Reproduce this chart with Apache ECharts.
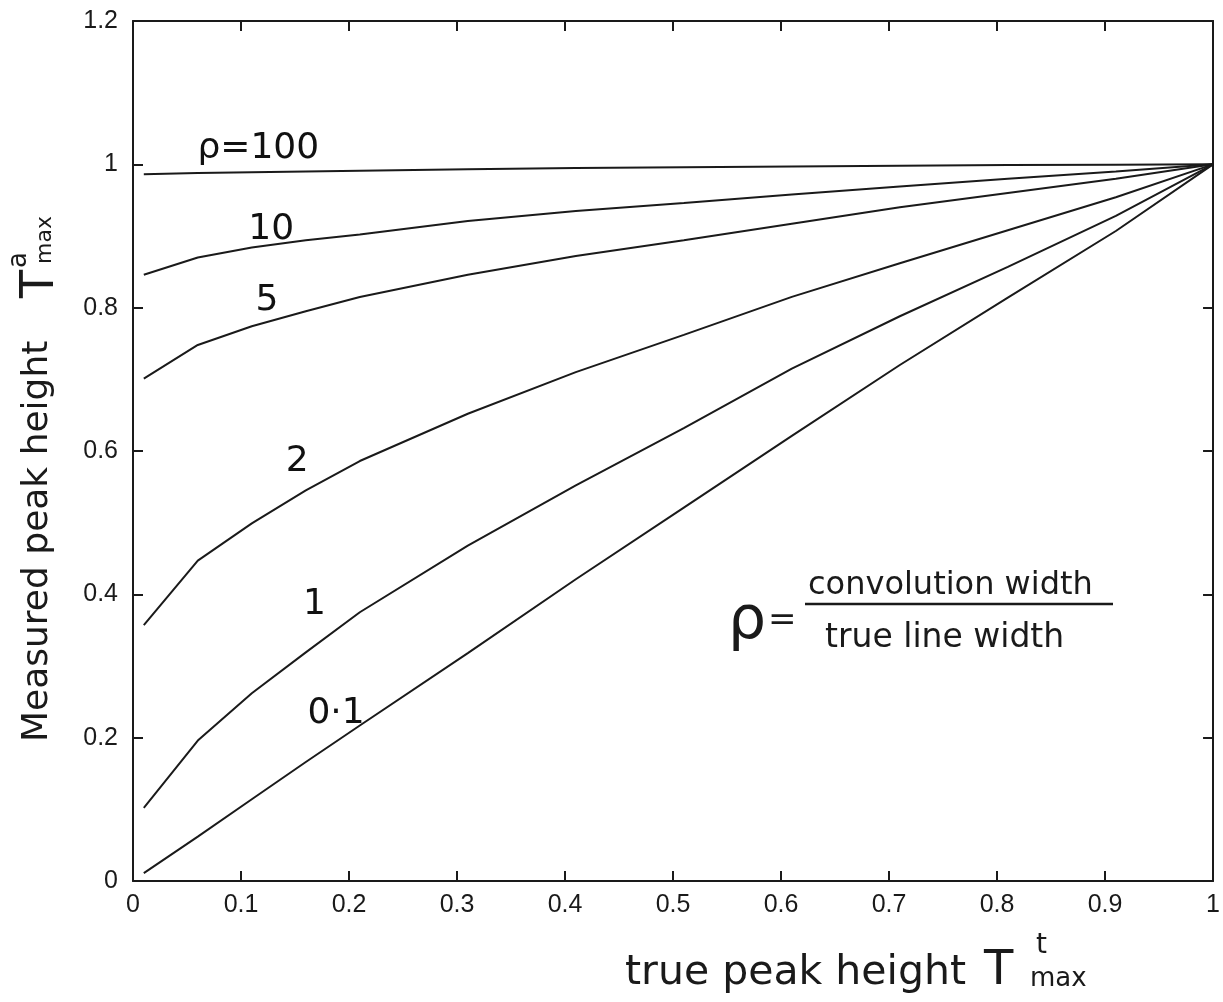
<!DOCTYPE html>
<html>
<head>
<meta charset="utf-8">
<script src="https://cdn.jsdelivr.net/npm/echarts@6/dist/echarts.min.js"></script>
<style>
  html, body { margin: 0; padding: 0; background: #fff; }
  #chart { width: 1223px; height: 1002px; }
</style>
</head>
<body>
<div id="chart"></div>
<script>
// true peak height (x) sampled points
const xTrue = [0.01, 0.06, 0.11, 0.16, 0.21, 0.31, 0.41, 0.51, 0.61, 0.71, 0.81, 0.91, 1.0]

// measured peak height for each rho
const rho100 = [0.986, 0.988, 0.989, 0.990, 0.991, 0.993, 0.995, 0.996, 0.997, 0.998, 0.999, 0.9995, 1.0]
const rho10 = [0.846, 0.870, 0.884, 0.894, 0.902, 0.921, 0.935, 0.946, 0.958, 0.969, 0.980, 0.990, 1.0]
const rho5 = [0.701, 0.748, 0.774, 0.795, 0.815, 0.846, 0.872, 0.894, 0.917, 0.940, 0.960, 0.980, 1.0]
const rho2 = [0.357, 0.447, 0.499, 0.545, 0.586, 0.652, 0.710, 0.762, 0.815, 0.862, 0.908, 0.954, 1.0]
const rho1 = [0.102, 0.196, 0.262, 0.319, 0.375, 0.468, 0.552, 0.632, 0.715, 0.788, 0.857, 0.928, 1.0]
const rho01 = [0.011, 0.062, 0.114, 0.166, 0.217, 0.318, 0.421, 0.521, 0.621, 0.720, 0.814, 0.907, 1.0]

const curves = [
  { name: 'ρ=100', values: rho100 },
  { name: '10', values: rho10 },
  { name: '5', values: rho5 },
  { name: '2', values: rho2 },
  { name: '1', values: rho1 },
  { name: '0.1', values: rho01 }
]

// curve labels: text, x, y (data coords)
const curveLabels = [
  ['ρ=100', 0.116, 1.022],
  ['10', 0.128, 0.909],
  ['5', 0.124, 0.810],
  ['2', 0.152, 0.585],
  ['1', 0.168, 0.385],
  ['0·1', 0.188, 0.234]
]

const xTicks = [0, 0.1, 0.2, 0.3, 0.4, 0.5, 0.6, 0.7, 0.8, 0.9, 1]
const yTicks = [0, 0.2, 0.4, 0.6, 0.8, 1, 1.2]

const ink = '#1a1a1a'
const hand = '"DejaVu Sans", sans-serif'
const tickFont = '"Liberation Sans", Arial, sans-serif'

const fmt = v => String(+v.toFixed(1))

const axisCommon = {
  type: 'value',
  axisLine: { show: true, onZero: false, lineStyle: { color: ink, width: 2 } },
  axisTick: { show: true, inside: true, length: 10, lineStyle: { color: ink, width: 2 } },
  splitLine: { show: false }
}

const chart = echarts.init(document.getElementById('chart'))

const option = {
  backgroundColor: '#fff',
  animation: false,
  grid: { left: 133, right: 5, top: 21, bottom: 121 },
  xAxis: [
    Object.assign({}, axisCommon, {
      position: 'bottom', min: 0, max: 1, interval: 0.1,
      axisLabel: { color: ink, fontSize: 25, fontFamily: tickFont, margin: 12, formatter: fmt }
    }),
    Object.assign({}, axisCommon, {
      position: 'top', min: 0, max: 1, interval: 0.1,
      axisLabel: { show: false }
    })
  ],
  yAxis: [
    Object.assign({}, axisCommon, {
      position: 'left', min: 0, max: 1.2, interval: 0.2,
      axisLabel: { color: ink, fontSize: 25, fontFamily: tickFont, margin: 15, formatter: fmt }
    }),
    Object.assign({}, axisCommon, {
      position: 'right', min: 0, max: 1.2, interval: 0.2,
      axisLabel: { show: false }
    })
  ],
  series: curves.map(c => ({
    name: c.name,
    type: 'line',
    data: xTrue.map((x, i) => [x, c.values[i]]),
    showSymbol: false,
    symbol: 'none',
    lineStyle: { color: ink, width: 2 },
    silent: true
  })).concat([{
    name: 'labels',
    type: 'scatter',
    symbolSize: 0,
    silent: true,
    itemStyle: { opacity: 1 },
    data: curveLabels.map(l => ({ name: l[0], value: [l[1], l[2]] })),
    label: {
      show: true,
      position: 'inside',
      formatter: p => p.name,
      color: '#111',
      opacity: 1,
      textBorderWidth: 0,
      fontSize: 36,
      fontFamily: hand
    }
  }]),
  graphic: [
    // x-axis title
    { type: 'text', left: 625, top: 953, style: { text: 'true peak height', font: '41px ' + hand, fill: ink } },
    { type: 'text', left: 984, top: 948, style: { text: 'T', font: '48px ' + hand, fill: ink } },
    { type: 'text', left: 1036, top: 932, style: { text: 't', font: '28px ' + hand, fill: ink } },
    { type: 'text', left: 1030, top: 966, style: { text: 'max', font: '26px ' + hand, fill: ink } },
    // y-axis title (rotated)
    {
      type: 'group', x: 20, y: 742, rotation: Math.PI / 2,
      children: [
        { type: 'text', x: 0, y: 0, style: { text: 'Measured peak height', font: '36px ' + hand, fill: ink, textVerticalAlign: 'top' } },
        { type: 'text', x: 444, y: -2, style: { text: 'T', font: '46px ' + hand, fill: ink, textVerticalAlign: 'top' } },
        { type: 'text', x: 474, y: -14, style: { text: 'a', font: '26px ' + hand, fill: ink, textVerticalAlign: 'top' } },
        { type: 'text', x: 478, y: 14, style: { text: 'max', font: '22px ' + hand, fill: ink, textVerticalAlign: 'top' } }
      ]
    },
    // rho definition
    { type: 'text', left: 728, top: 592, style: { text: 'ρ', font: '60px ' + hand, fill: ink } },
    { type: 'text', left: 768, top: 604, style: { text: '=', font: '34px ' + hand, fill: ink } },
    { type: 'text', left: 808, top: 570, style: { text: 'convolution width', font: '32px ' + hand, fill: ink } },
    { type: 'line', shape: { x1: 805, y1: 604, x2: 1113, y2: 604 }, style: { stroke: ink, lineWidth: 2.5 } },
    { type: 'text', left: 825, top: 622, style: { text: 'true line width', font: '33px ' + hand, fill: ink } }
  ]
}

chart.setOption(option)
</script>
</body>
</html>
